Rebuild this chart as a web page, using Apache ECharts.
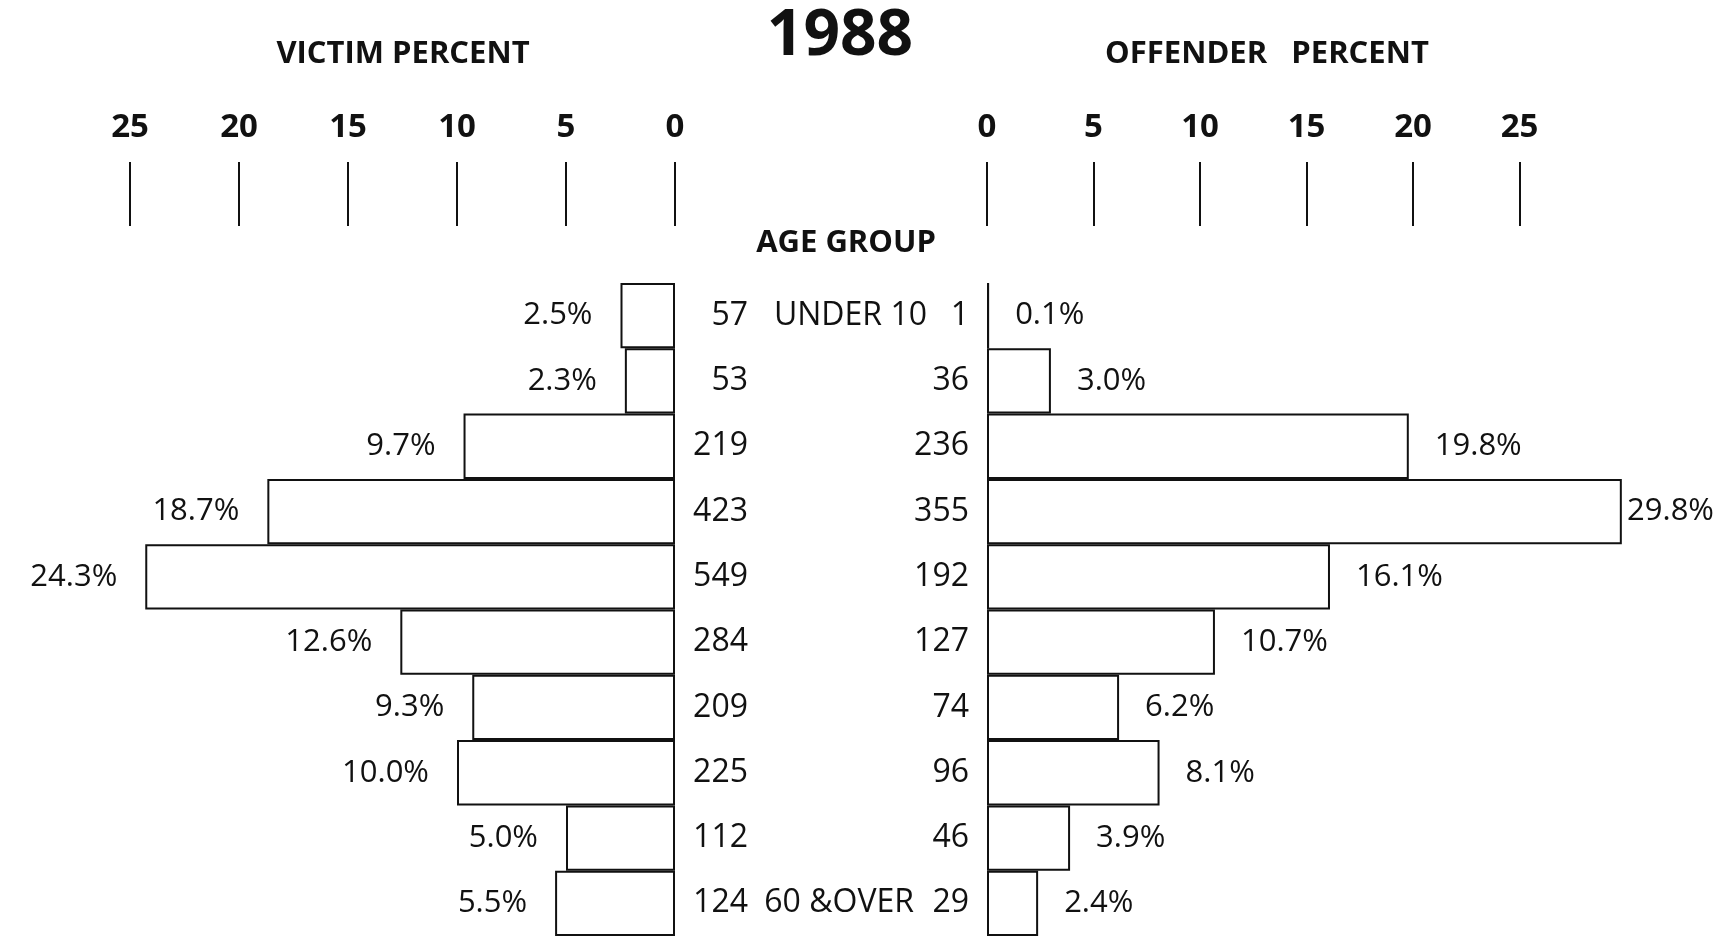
<!DOCTYPE html>
<html>
<head>
<meta charset="utf-8">
<script src="https://cdn.jsdelivr.net/npm/echarts@6/dist/echarts.min.js"></script>
<style>
  html, body { margin: 0; padding: 0; background: #fff; }
  #chart { width: 1717px; height: 938px; }
</style>
</head>
<body>
<div id="chart"></div>
<script>
// 1988 victim / offender age pyramid
const ageGroups = ['UNDER 10', '', '', '', '', '', '', '', '', '60 &OVER']
const victimPct = [2.5, 2.3, 9.7, 18.7, 24.3, 12.6, 9.3, 10.0, 5.0, 5.5]
const victimCount = [57, 53, 219, 423, 549, 284, 209, 225, 112, 124]
const offenderPct = [0.1, 3.0, 19.8, 29.8, 16.1, 10.7, 6.2, 8.1, 3.9, 2.4]
const offenderCount = [1, 36, 236, 355, 192, 127, 74, 96, 46, 29]
const pctTicks = [0, 5, 10, 15, 20, 25]

const ink = '#111'
const font = '"Open Sans", "Noto Sans", sans-serif'
const W = 1717

const pctAxis = function (gridIndex, inverse, max) {
  return {
    type: 'value',
    gridIndex: gridIndex,
    position: 'top',
    inverse: inverse,
    min: 0,
    max: max,
    interval: 5,
    offset: 57,
    axisLine: { show: false },
    splitLine: { show: false },
    axisTick: {
      show: true,
      length: 64,
      customValues: pctTicks,
      lineStyle: { color: ink, width: 2 }
    },
    axisLabel: {
      customValues: pctTicks,
      margin: 82,
      color: ink,
      fontSize: 33,
      fontWeight: 'bold',
      fontFamily: font
    }
  }
}

const hiddenCat = {
  type: 'category',
  inverse: true,
  data: ageGroups,
  axisLine: { show: false },
  axisTick: { show: false }
}

const barStyle = { color: '#fff', borderColor: ink, borderWidth: 2 }
const pctLabel = function (position) {
  return {
    show: true,
    position: position,
    distance: 28,
    color: ink,
    fontSize: 31,
    fontFamily: font,
    formatter: p => p.value.toFixed(1) + '%'
  }
}

const chart = echarts.init(document.getElementById('chart'))
chart.setOption({
  backgroundColor: '#fff',
  animation: false,
  textStyle: { fontFamily: font },
  grid: [
    { left: 21, right: 1042, top: 283, bottom: 2 },
    { left: 987, right: 76, top: 283, bottom: 2 }
  ],
  xAxis: [pctAxis(0, true, 30), pctAxis(1, false, 30.7)],
  yAxis: [
    Object.assign({}, hiddenCat, {
      gridIndex: 0,
      position: 'right',
      axisLabel: {
        align: 'right', margin: 73, color: ink, fontSize: 32, fontFamily: font,
        formatter: (v, i) => String(victimCount[i])
      }
    }),
    Object.assign({}, hiddenCat, {
      gridIndex: 1,
      position: 'left',
      axisLabel: {
        margin: 18, color: ink, fontSize: 32, fontFamily: font,
        formatter: (v, i) => String(offenderCount[i])
      }
    }),
    Object.assign({}, hiddenCat, {
      gridIndex: 1,
      position: 'left',
      axisLabel: {
        margin: 60, color: ink, fontSize: 32, fontFamily: font,
        formatter: (v, i) => i === ageGroups.length - 1 ? '{last|' + v + '}' : v,
        rich: {
          last: { fontSize: 32, fontFamily: font, color: ink, padding: [0, 13, 0, 0] }
        }
      }
    })
  ],
  series: [
    {
      type: 'bar',
      xAxisIndex: 0,
      yAxisIndex: 0,
      barCategoryGap: '0%',
      data: victimPct,
      itemStyle: barStyle,
      label: pctLabel('left')
    },
    {
      type: 'bar',
      xAxisIndex: 1,
      yAxisIndex: 1,
      barCategoryGap: '0%',
      data: offenderPct,
      itemStyle: barStyle,
      label: Object.assign(pctLabel('right'), { distance: 26 }),
      // keep the widest label inside the page
      labelLayout: function (params) {
        const r = params.labelRect
        if (r.x + r.width > W - 3) {
          return { x: W - 3, y: r.y + r.height / 2, align: 'right', verticalAlign: 'middle' }
        }
      }
    }
  ],
  graphic: [
    {
      type: 'text', x: 840, y: 37,
      style: { text: '1988', fontSize: 64, fontWeight: 'bold', fontFamily: font, fill: ink, align: 'center', verticalAlign: 'middle' }
    },
    {
      type: 'text', x: 403, y: 54,
      style: { text: 'VICTIM PERCENT', fontSize: 31, fontWeight: 'bold', fontFamily: font, fill: ink, align: 'center', verticalAlign: 'middle' }
    },
    {
      type: 'text', x: 1267, y: 54,
      style: { text: 'OFFENDER   PERCENT', fontSize: 31, fontWeight: 'bold', fontFamily: font, fill: ink, align: 'center', verticalAlign: 'middle' }
    },
    {
      type: 'text', x: 846, y: 243,
      style: { text: 'AGE GROUP', fontSize: 31, fontWeight: 'bold', fontFamily: font, fill: ink, align: 'center', verticalAlign: 'middle' }
    }
  ]
})
</script>
</body>
</html>
